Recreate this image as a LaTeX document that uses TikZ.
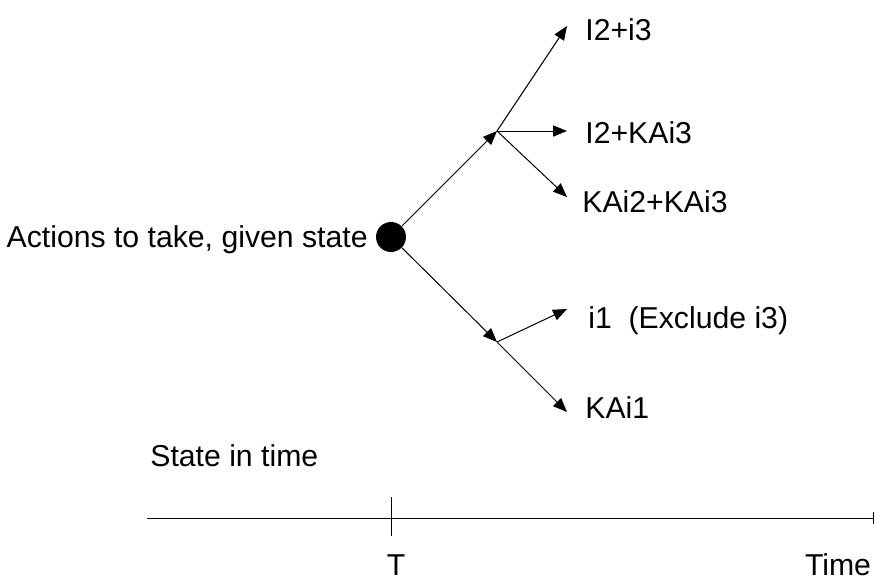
\documentclass[tikz,border=0pt]{standalone}
\usepackage{fontspec}
\setmainfont{Liberation Sans}
\usetikzlibrary{arrows.meta}

\tikzset{
  lbl/.style={anchor=base west,inner sep=0pt,font=\fontsize{15.1}{18}\selectfont},
  act/.style={-{Triangle[length=7pt,width=5.6pt]},line width=0.5pt},
  state/.style={circle,fill=black,minimum size=15pt,inner sep=0pt},
}

\begin{document}
\begin{tikzpicture}[x=0.5pt,y=-0.5pt]
  \useasboundingbox (0,0) rectangle (875,580);

  % decision point and its two branch points
  \node[state] (s) at (391,237) {};
  \node[lbl,anchor=base east] (take) at (368,247) {Actions to take, given state};
  \coordinate (up) at (497,131);
  \coordinate (dn) at (497,342);

  % end points of the actions
  \coordinate (a1) at (567,26);
  \coordinate (a2) at (567,131);
  \coordinate (a3) at (567,197);
  \coordinate (a4) at (567,309);
  \coordinate (a5) at (567,412);

  \node[lbl] (l1) at (585,40)  {I2+i3};
  \node[lbl] (l2) at (585,143) {I2+KAi3};
  \node[lbl] (l3) at (582,212) {KAi2+KAi3};
  \node[lbl] (l4) at (588,328) {i1\ \ (Exclude i3)};
  \node[lbl] (l5) at (585,418) {KAi1};

  \draw[act] (s) -- (up);
  \draw[act] (s) -- (dn);
  \draw[act] (up) -- (a1);
  \draw[act] (up) -- (a2);
  \draw[act] (up) -- (a3);
  \draw[act] (dn) -- (a4);
  \draw[act] (dn) -- (a5);

  % time axis
  \node[lbl] (sit) at (150,466) {State in time};
  \coordinate (t0) at (147,518);
  \coordinate (t1) at (873,518);
  \coordinate (tT) at (391,518);
  \draw[line width=0.5pt] (t0) -- (t1);
  \draw[line width=0.5pt] ([yshift=-9pt]tT) -- ([yshift=10.5pt]tT);
  \draw[line width=0.5pt] ([yshift=-3pt]t1) -- ([yshift=3pt]t1);
  \node[lbl,anchor=base] (T) at (396,575) {T};
  \node[lbl,anchor=base] (time) at (838,575) {Time};
\end{tikzpicture}
\end{document}
